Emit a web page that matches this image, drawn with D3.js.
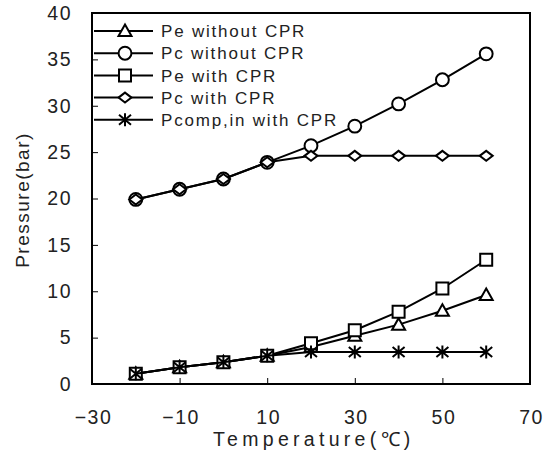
<!DOCTYPE html>
<html lang="en">
<head>
<meta charset="utf-8" />
<title>Pressure vs Temperature</title>
<script src="https://cdn.jsdelivr.net/npm/d3@7"></script>
<style>
  html, body { margin: 0; background: #fff; }
  svg { display: block; font-family: "Liberation Sans", Arial, sans-serif; }
</style>
</head>
<body>
<script>
// values
const temps = [-20, -10, 0, 10, 20, 30, 40, 50, 60];
const peWithout = [1.1, 1.8, 2.35, 3.05, 4.0, 5.2, 6.4, 7.9, 9.6];
const pcWithout = [19.9, 21.0, 22.1, 23.9, 25.7, 27.8, 30.2, 32.8, 35.6];
const peWith = [1.1, 1.8, 2.35, 3.05, 4.4, 5.8, 7.8, 10.3, 13.4];
const pcWith = [19.9, 21.0, 22.1, 23.9, 24.6, 24.6, 24.6, 24.6, 24.6];
const pcompWith = [1.1, 1.8, 2.35, 3.05, 3.45, 3.45, 3.45, 3.45, 3.45];
const seriesNames = ["Pe without CPR", "Pc without CPR", "Pe with CPR", "Pc with CPR", "Pcomp,in with CPR"];
const xTicks = [-30, -10, 10, 30, 50, 70];
const yTicks = [0, 5, 10, 15, 20, 25, 30, 35, 40];

const W = 550, H = 460;
const m = { left: 92, right: 20, top: 13, bottom: 76 };

const svg = d3.select("body").append("svg").attr("width", W).attr("height", H);

const x = d3.scaleLinear().domain([-30, 70]).range([m.left, W - m.right]);
const y = d3.scaleLinear().domain([0, 40]).range([H - m.bottom, m.top]);

// marker shapes
const triangle = "M0,-6.5L6.5,5L-6.5,5Z";
const diamond = "M0,-5L6.5,0L0,5L-6.5,0Z";
const star = "M0,-6.5L0,6.5M-6,-5L6,5M-6,5L6,-5";
const markers = [
  { d: triangle },
  { d: d3.symbol(d3.symbolCircle, 130)() },
  { d: "M-6,-6H6V6H-6Z" },
  { d: diamond },
  { d: star, open: true },
];
const values = [peWithout, pcWithout, peWith, pcWith, pcompWith];

const line = d3.line().x(d => x(d[0])).y(d => y(d[1]));

// axes, ticks pointing inward
const xAxis = svg.append("g").attr("transform", `translate(0,${y(0)})`)
  .call(d3.axisBottom(x).tickValues(xTicks).tickSizeInner(-6).tickSizeOuter(0).tickPadding(25));
const yAxis = svg.append("g").attr("transform", `translate(${x(-30)},0)`)
  .call(d3.axisLeft(y).tickValues(yTicks).tickSizeInner(-6).tickSizeOuter(0).tickPadding(20));
[xAxis, yAxis].forEach(g => {
  g.select(".domain").remove();
  g.selectAll("line").attr("stroke", "#000").attr("stroke-width", 1);
  g.selectAll("text").attr("font-size", 19.5).attr("fill", "#222").attr("letter-spacing", 1.5);
});
xAxis.selectAll("text").attr("dy", 0).attr("y", 40).attr("dx", 1);

// frame
svg.append("rect")
  .attr("x", x(-30)).attr("y", y(40))
  .attr("width", x(70) - x(-30)).attr("height", y(0) - y(40))
  .attr("fill", "none").attr("stroke", "#000").attr("stroke-width", 2);

// series
values.forEach((vals, i) => {
  const pts = temps.map((t, j) => [t, vals[j]]);
  const g = svg.append("g");
  g.append("path").datum(pts).attr("d", line)
    .attr("fill", "none").attr("stroke", "#000").attr("stroke-width", 2);
  g.selectAll("path.mk").data(pts).join("path").attr("class", "mk")
    .attr("transform", d => `translate(${x(d[0])},${y(d[1])})`)
    .attr("d", markers[i].d)
    .attr("fill", markers[i].open ? "none" : "#fff")
    .attr("stroke", "#000").attr("stroke-width", 2);
});

// legend
const legend = svg.append("g");
seriesNames.forEach((name, i) => {
  const ly = 31 + i * 22.2;
  const row = legend.append("g").attr("transform", `translate(0,${ly})`);
  row.append("line").attr("x1", 94).attr("x2", 153).attr("stroke", "#000").attr("stroke-width", 2);
  row.append("path").attr("transform", "translate(125,0)")
    .attr("d", markers[i].d)
    .attr("fill", markers[i].open ? "none" : "#fff")
    .attr("stroke", "#000").attr("stroke-width", 2);
  row.append("text").attr("x", 161).attr("dy", "0.36em")
    .attr("font-size", 17).attr("letter-spacing", 1.8).attr("fill", "#222").text(name);
});

// axis titles
svg.append("text").attr("x", 213).attr("y", 446)
  .attr("font-size", 19.5).attr("letter-spacing", 4.3).attr("fill", "#222")
  .text("Temperature(℃)");
svg.append("text").attr("transform", "translate(29,200) rotate(-90)")
  .attr("text-anchor", "middle").attr("font-size", 19).attr("letter-spacing", 1.5).attr("fill", "#222")
  .text("Pressure(bar)");
</script>
</body>
</html>
